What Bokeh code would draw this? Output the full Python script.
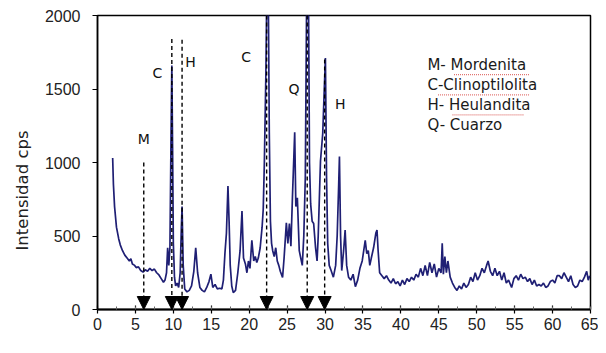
from bokeh.plotting import figure
from bokeh.models import (Range1d, SingleIntervalTicker, Label, Arrow, NormalHead, Title)
from bokeh.embed import file_html
from bokeh.resources import INLINE

# ---- data (2-theta, intensity cps) ----
two_theta = [2.0, 2.1, 2.25, 2.5, 2.8, 3.0, 3.3, 3.6, 3.9, 4.2, 4.4, 4.6, 4.9, 5.1, 5.4, 5.7, 6.0, 6.3, 6.6, 6.9,
             7.2, 7.5, 7.8, 8.1, 8.4, 8.7, 8.9, 9.1, 9.25, 9.4, 9.55, 9.7, 9.8, 9.9, 10.0, 10.15, 10.3, 10.5, 10.7, 10.9,
             11.05, 11.15, 11.3, 11.5, 11.8, 12.1, 12.4, 12.7, 12.95, 13.2, 13.5, 13.8, 14.1, 14.4, 14.7, 14.95, 15.2, 15.5, 15.8, 16.1,
             16.4, 16.6, 16.8, 17.0, 17.2, 17.35, 17.5, 17.7, 17.9, 18.2, 18.5, 18.8, 19.05, 19.25, 19.5, 19.7, 19.9, 20.1, 20.35, 20.6,
             20.8, 21.0, 21.2, 21.45, 21.7, 21.85, 22.0, 22.2, 22.35, 22.5, 22.65, 22.8, 22.95, 23.1, 23.3, 23.5, 23.7, 23.9, 24.1, 24.4,
             24.6, 24.9, 25.1, 25.3, 25.5, 25.7, 26.0, 26.15, 26.35, 26.6, 26.8, 27.0, 27.2, 27.4, 27.6, 27.8, 27.95, 28.1, 28.3, 28.5,
             28.75, 28.95, 29.1, 29.4, 29.7, 29.9, 30.05, 30.2, 30.35, 30.55, 30.8, 31.1, 31.4, 31.6, 31.8, 31.9, 32.05, 32.2, 32.45, 32.65,
             32.85, 33.1, 33.4, 33.7, 34.0, 34.3, 34.6, 34.9, 35.1, 35.3, 35.5, 35.7, 35.9, 36.1, 36.4, 36.7, 36.85, 37.0, 37.2, 37.5,
             37.8, 38.1, 38.4, 38.7, 39.0, 39.3, 39.6, 39.9, 40.2, 40.5, 40.8, 41.1, 41.4, 41.7, 42.0, 42.3, 42.6, 42.9, 43.2, 43.5,
             43.8, 44.1, 44.4, 44.7, 45.0, 45.3, 45.45, 45.6, 45.8, 46.0, 46.2, 46.5, 46.8, 47.1, 47.4, 47.7, 48.0, 48.3, 48.6, 48.9,
             49.2, 49.5, 49.8, 50.1, 50.4, 50.7, 51.0, 51.3, 51.5, 51.8, 52.1, 52.4, 52.7, 53.0, 53.3, 53.6, 53.9, 54.2, 54.6, 54.9,
             55.2, 55.5, 55.8, 56.1, 56.4, 56.7, 57.0, 57.3, 57.6, 57.9, 58.2, 58.5, 58.8, 59.1, 59.4, 59.7, 60.0, 60.3, 60.6, 60.9,
             61.2, 61.5, 61.8, 62.1, 62.4, 62.7, 63.0, 63.3, 63.6, 63.9, 64.2, 64.5, 64.7, 64.9]
intensity = [1030, 850, 700, 560, 480, 440, 400, 370, 350, 330, 345, 310, 300, 285, 290, 265, 255, 270, 260, 280,
             265, 275, 250, 235, 210, 185, 200, 250, 420, 300, 420, 1200, 1660, 1100, 450, 220, 160, 180, 150, 250,
             550, 700, 300, 140, 120, 130, 160, 260, 420, 250, 150, 130, 120, 150, 190, 240, 150, 170, 140, 145,
             140, 200, 380, 520, 840, 600, 300, 160, 115, 130, 250, 400, 670, 350, 310, 250, 330, 280, 470, 330,
             360, 320, 350, 420, 560, 680, 1000, 1600, 2300, 2300, 1200, 600, 450, 400, 360, 420, 330, 300, 260, 218,
             350, 590, 450, 585, 430, 760, 1205, 700, 760, 400, 350, 300, 500, 900, 2300, 2300, 1000, 720, 600, 585,
             420, 330, 500, 1010, 1200, 1500, 1710, 900, 450, 300, 265, 220, 300, 500, 850, 1040, 500, 265, 400, 540,
             300, 220, 200, 240, 155, 200, 280, 330, 400, 470, 380, 400, 300, 350, 420, 520, 540, 400, 250, 230,
             210, 230, 200, 180, 210, 175, 190, 160, 200, 170, 210, 190, 220, 200, 240, 220, 280, 230, 300, 230,
             320, 250, 310, 220, 280, 250, 450, 240, 360, 250, 330, 220, 180, 150, 130, 160, 140, 180, 150, 170,
             220, 190, 250, 200, 230, 280, 250, 300, 330, 260, 230, 280, 230, 260, 200, 250, 180, 200, 150, 210,
             230, 200, 240, 210, 220, 190, 210, 170, 200, 160, 170, 160, 180, 150, 160, 190, 200, 180, 230, 230,
             210, 250, 220, 190, 230, 170, 150, 160, 200, 190, 220, 260, 200, 230]

# phase markers: dashed arrows
marker_x = [6.1, 9.8, 11.15, 22.3, 27.65, 29.95]
marker_top = [1000, 1840, 1835, 2000, 2000, 1700]

# phase letters next to the peaks
peak_letters = ["M", "C", "H", "C", "Q", "H"]
letter_x = [6.1, 7.9, 12.25, 19.6, 25.9, 32.0]
letter_y = [1163, 1607, 1683, 1716, 1500, 1400]

# key text (top right)
key_lines = ["M- Mordenita", "C-Clinoptilolita", "H- Heulandita", "Q- Cuarzo"]
key_y = [1660, 1524, 1388, 1252]
key_x = 43.5
# spell-check squiggles under the key words: (x0, x1, y)
squiggle_x0 = [47.0, 44.9, 46.8]
squiggle_x1 = [57.0, 57.0, 56.2]
squiggle_y = [1598, 1460, 1324]

x_ticks_interval = 5
y_ticks_interval = 500

p = figure(width=598, height=345, output_backend="svg", toolbar_location=None,
           x_range=Range1d(0, 65), y_range=Range1d(0, 2000),
           min_border_left=91, min_border_right=8, min_border_top=15, min_border_bottom=36)
p.background_fill_color = "white"
p.border_fill_color = "white"
p.xgrid.visible = False
p.ygrid.visible = False
p.outline_line_color = "black"
p.outline_line_width = 1.5

p.line(two_theta, intensity, line_color="#1f1f74", line_width=1.7)

for xm, ym in zip(marker_x, marker_top):
    p.add_layout(Arrow(end=NormalHead(size=13, fill_color="black", line_color="black", line_width=1),
                       x_start=xm, y_start=ym, x_end=xm, y_end=0,
                       line_color="black", line_width=1.4, line_dash="4 3"))

for t, xx, yy in zip(peak_letters, letter_x, letter_y):
    p.add_layout(Label(x=xx, y=yy, text=t, text_align="center", text_baseline="middle",
                       text_font="DejaVu Sans", text_font_size="14px", text_color="#111111"))

for t, yy in zip(key_lines, key_y):
    p.add_layout(Label(x=key_x, y=yy, text=t, text_align="left", text_baseline="middle",
                       text_font="DejaVu Sans", text_font_size="15px", text_color="#1a1a1a"))

p.segment(x0=squiggle_x0, y0=squiggle_y, x1=squiggle_x1, y1=squiggle_y,
          line_color="#d9534f", line_width=1.2, line_dash="1 1", line_alpha=0.8)

# y-axis title
p.add_layout(Title(text="Intensidad cps", align="left", offset=59, standoff=20,
                   text_font="DejaVu Sans", text_font_size="16.5px", text_font_style="normal",
                   text_color="#222222"), "left")

xa = p.xaxis[0]
xa.ticker = SingleIntervalTicker(interval=x_ticks_interval, num_minor_ticks=2)
xa.axis_line_width = 2
xa.axis_line_color = "black"
xa.major_tick_in = 4
xa.major_tick_out = 4
xa.major_tick_line_width = 1.2
xa.minor_tick_in = 3
xa.minor_tick_out = 0
xa.minor_tick_line_color = "#666666"
xa.major_label_text_font = "Liberation Sans"
xa.major_label_text_font_size = "16px"
xa.major_label_text_color = "#222222"
xa.major_label_standoff = 4

ya = p.yaxis[0]
ya.ticker = SingleIntervalTicker(interval=y_ticks_interval, num_minor_ticks=0)
ya.axis_line_width = 1.5
ya.axis_line_color = "black"
ya.major_tick_in = 0
ya.major_tick_out = 5
ya.minor_tick_line_color = None
ya.major_label_text_font = "Liberation Sans"
ya.major_label_text_font_size = "16px"
ya.major_label_text_color = "#222222"
ya.major_label_standoff = 12

open("out.html", "w").write(file_html(p, INLINE))
